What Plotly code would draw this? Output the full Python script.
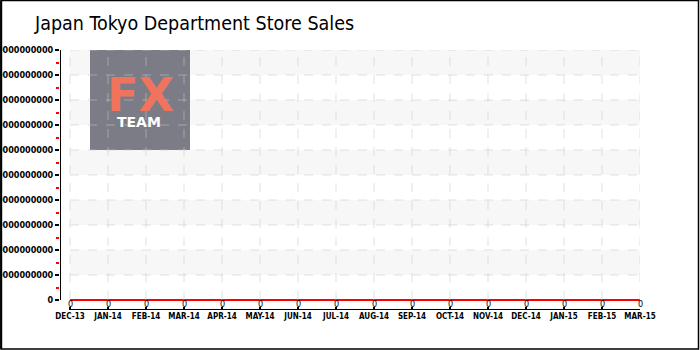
import plotly.graph_objects as go

months = ["DEC-13", "JAN-14", "FEB-14", "MAR-14", "APR-14", "MAY-14", "JUN-14", "JUL-14",
          "AUG-14", "SEP-14", "OCT-14", "NOV-14", "DEC-14", "JAN-15", "FEB-15", "MAR-15"]
sales = [0] * 16
ytick_vals = [i * 1e15 for i in range(11)]
ytick_text = ["0"] + [str(int(i * 1e15)) for i in range(1, 11)]

W, H = 700, 350
L, R, T, B = 60, 60, 50, 40
px_per_month = 38.0
x_pad = 10 / px_per_month
y_unit = 1e15
y_pad = 0.4 * y_unit
x_idx = list(range(len(months)))

fig = go.Figure()
fig.add_trace(go.Scatter(
    x=x_idx, y=sales, mode="lines", line=dict(color="#ff0000", width=2),
    cliponaxis=False, hoverinfo="skip"))

shapes = []
xmin, xmax = 0, len(months) - 1
for i in range(1, 11):
    if i % 2 == 0:
        shapes.append(dict(type="rect", xref="x", yref="y", x0=xmin, x1=xmax,
                           y0=(i - 1) * y_unit, y1=i * y_unit, fillcolor="#f7f7f7",
                           line=dict(width=0), layer="below"))

def px2x(p):
    return (p - L) / px_per_month - x_pad
def px2y(p):
    return (310 - p) / 25.0 * y_unit - y_pad

shapes.append(dict(type="rect", xref="x", yref="y", x0=px2x(90), x1=px2x(190),
                   y0=px2y(150), y1=px2y(50), fillcolor="#7b7c86",
                   line=dict(width=0), layer="below"))
for i in range(1, 11):
    shapes.append(dict(type="line", xref="x", yref="y", x0=xmin, x1=xmax,
                       y0=i * y_unit, y1=i * y_unit,
                       line=dict(color="rgba(200,200,200,0.55)", width=1, dash="dash")))
for i in x_idx:
    shapes.append(dict(type="line", xref="x", yref="y", x0=i, x1=i,
                       y0=0, y1=10 * y_unit,
                       line=dict(color="rgba(200,200,200,0.55)", width=1, dash="dash")))
shapes.append(dict(type="line", xref="x", yref="y", x0=-x_pad, x1=-x_pad, y0=0, y1=10 * y_unit,
                   line=dict(color="#000", width=2)))
shapes.append(dict(type="line", xref="x", yref="y", x0=xmin, x1=xmax, y0=-y_pad, y1=-y_pad,
                   line=dict(color="#000", width=2)))
pw, ph = W - L - R, H - T - B
shapes.append(dict(type="rect", xref="paper", yref="paper",
                   x0=(1 - L) / pw, x1=(W - 1.5 - L) / pw,
                   y0=(310 - (H - 1)) / ph, y1=(310 - 0.5) / ph,
                   line=dict(color="#000", width=1.5), fillcolor="rgba(0,0,0,0)"))
shapes.append(dict(type="line", xref="paper", yref="paper",
                   x0=(1.2 - L) / pw, x1=(1.2 - L) / pw,
                   y0=(310 - (H - 1)) / ph, y1=(310 - 0.5) / ph,
                   line=dict(color="#000", width=2)))

annotations = [
    dict(text="<b>FX</b>", xref="x", yref="y", x=px2x(140), y=px2y(95), showarrow=False,
         font=dict(family="DejaVu Sans", size=46, color="#f0735d"), xanchor="center", yanchor="middle"),
    dict(text="<b>TEAM</b>", xref="x", yref="y", x=px2x(139), y=px2y(122), showarrow=False,
         font=dict(family="DejaVu Sans", size=14, color="#ffffff"), xanchor="center", yanchor="middle"),
]
for i, v in zip(x_idx, sales):
    annotations.append(dict(text=str(v), xref="x", yref="y", x=i, y=px2y(304), showarrow=False,
                            font=dict(family="DejaVu Sans Condensed", size=9, color="#000"),
                            xanchor="center", yanchor="middle"))

fig.update_layout(
    width=W, height=H, margin=dict(l=L, r=R, t=T, b=B, autoexpand=False),
    paper_bgcolor="#ffffff", plot_bgcolor="#ffffff", showlegend=False,
    title=dict(text="Japan Tokyo Department Store Sales", xref="container", yref="container",
               x=35 / W, xanchor="left", y=1 - 23 / H, yanchor="middle",
               font=dict(family="DejaVu Sans Condensed, sans-serif", size=19.5, color="#000")),
    shapes=shapes, annotations=annotations,
    xaxis=dict(range=[-x_pad, xmax], tickvals=x_idx, ticktext=months, showgrid=False, zeroline=False,
               showline=False, ticks="inside", ticklen=3, tickwidth=1.5, tickcolor="#000",
               automargin=False,
               tickfont=dict(family="DejaVu Sans Condensed", size=8, color="#000", weight="bold"),
               fixedrange=True),
    yaxis=dict(range=[-y_pad, 10 * y_unit], tickvals=ytick_vals, ticktext=ytick_text, showgrid=False,
               zeroline=False, showline=False, ticks="outside", ticklen=4, tickwidth=1.5, tickcolor="#000",
               automargin=False,
               minor=dict(tickvals=[(i + 0.5) * y_unit for i in range(10)], ticks="outside", ticklen=3,
                          tickcolor="#ff0000", tickwidth=1.5, showgrid=False),
               tickfont=dict(family="DejaVu Sans Condensed", size=9, color="#000", weight="bold"),
               fixedrange=True),
)
fig.write_html("out.html")
